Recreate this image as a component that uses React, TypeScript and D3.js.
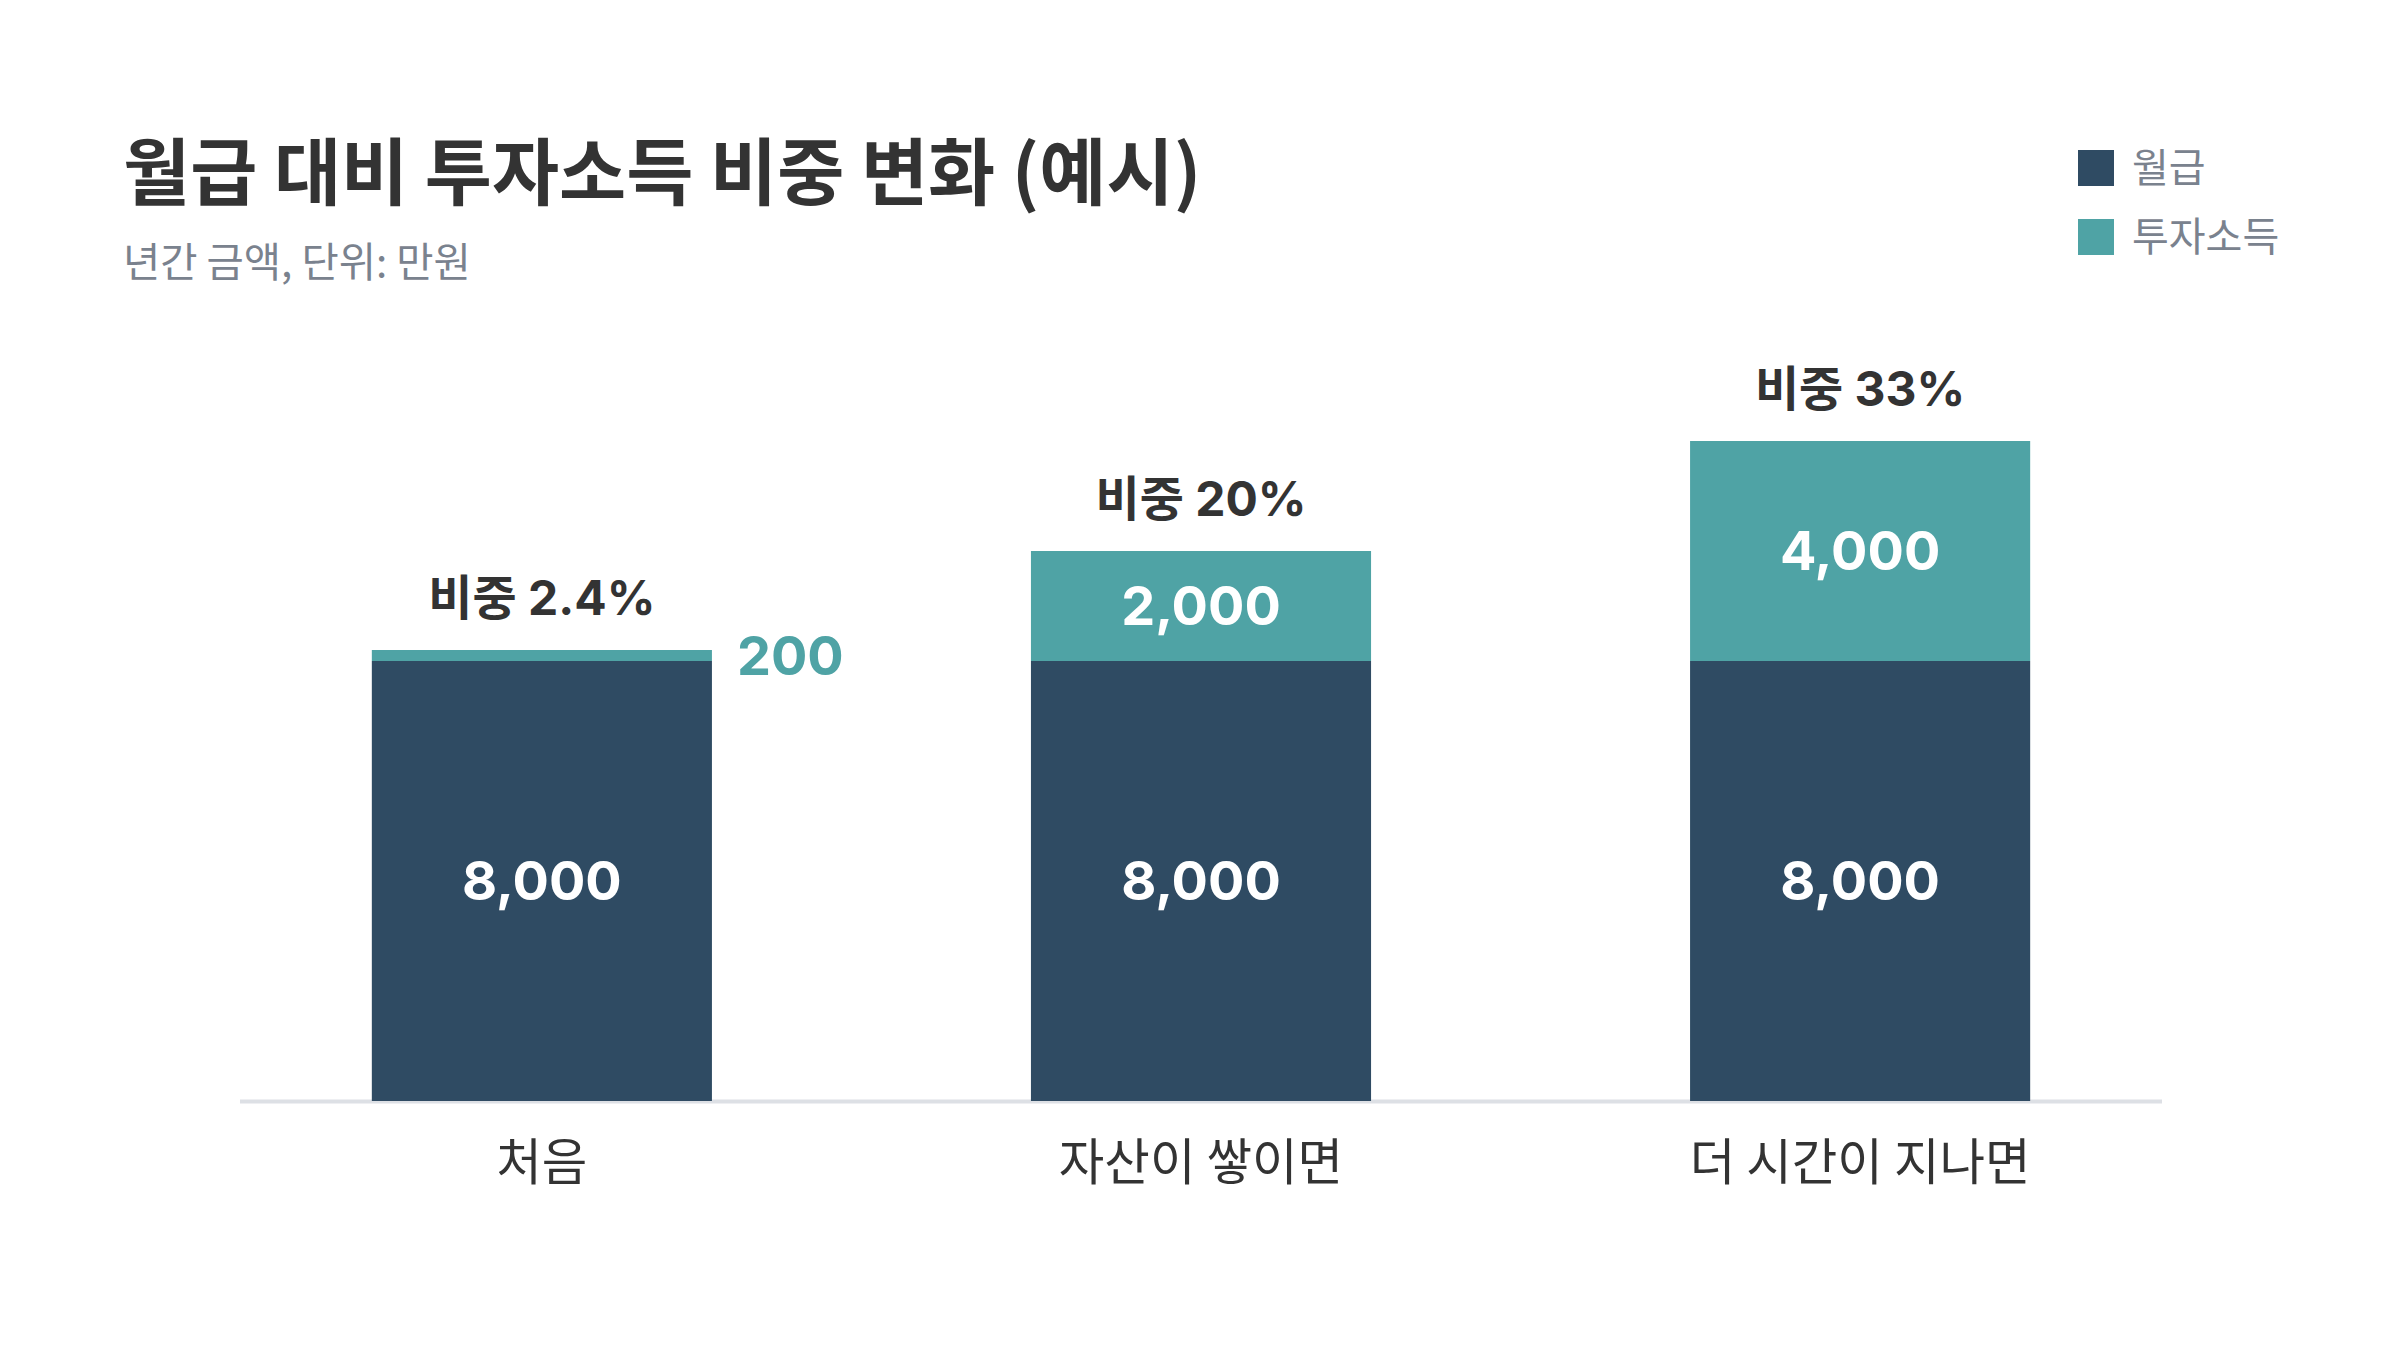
import { useEffect, useRef } from 'react';
import * as d3 from 'd3';

const categories = ['처음', '자산이 쌓이면', '더 시간이 지나면'];
const salary = [8000, 8000, 8000];
const investment = [200, 2000, 4000];
const shareLabels = ['비중 2.4%', '비중 20%', '비중 33%'];
const seriesKeys = ['salary', 'investment'];
const seriesNames = ['월급', '투자소득'];
const seriesColors = ['#2f4b63', '#4fa3a5'];

const FONT = '"Noto Sans CJK KR", "Noto Sans", sans-serif';
const NUM_FONT = 'Inter, "Noto Sans CJK KR", sans-serif';

const App = () => {
  const svgRef = useRef<SVGSVGElement>(null);

  useEffect(() => {
    if (!svgRef.current) {
      return;
    }

    const width = 2400;
    const height = 1350;
    const baseline = 1101;

    const svg = d3.select(svgRef.current);
    svg.selectAll('*').remove();
    svg.attr('width', width).attr('height', height);

    svg.append('rect').attr('width', width).attr('height', height).attr('fill', '#ffffff');

    const rows = categories.map((c, i) => ({ category: c, salary: salary[i], investment: investment[i] }));
    const stacked = d3.stack<(typeof rows)[number]>().keys(seriesKeys)(rows);

    const x = d3.scaleBand<string>().domain(categories).range([240, 2162]).paddingInner(0.484).paddingOuter(0.2);
    const y = d3.scaleLinear().domain([0, 12000]).range([baseline, 441]);
    const color = d3.scaleOrdinal<string, string>().domain(seriesKeys).range(seriesColors);

    // title block
    svg
      .append('text')
      .attr('x', 123)
      .attr('y', 199)
      .attr('font-family', FONT)
      .attr('font-size', 73)
      .attr('font-weight', 700)
      .attr('fill', '#333333')
      .text('월급 대비 투자소득 비중 변화 (예시)');

    svg
      .append('text')
      .attr('x', 123)
      .attr('y', 277)
      .attr('font-family', FONT)
      .attr('font-size', 40.5)
      .attr('fill', '#7a828e')
      .text('년간 금액, 단위: 만원');

    // legend
    const legend = svg
      .append('g')
      .selectAll('g')
      .data(seriesKeys)
      .enter()
      .append('g')
      .attr('transform', (_d, i) => `translate(2078,${150 + i * 69})`);

    legend
      .append('rect')
      .attr('width', 36)
      .attr('height', 36)
      .attr('fill', (d) => color(d));

    legend
      .append('text')
      .attr('x', 54)
      .attr('y', 18)
      .attr('dy', '0.36em')
      .attr('font-family', FONT)
      .attr('font-size', 40)
      .attr('fill', '#7a828e')
      .text((_d, i) => seriesNames[i]);

    // axis line
    svg
      .append('line')
      .attr('x1', x.range()[0])
      .attr('x2', x.range()[1])
      .attr('y1', baseline + 0.5)
      .attr('y2', baseline + 0.5)
      .attr('stroke', '#dde0e5')
      .attr('stroke-width', 4);

    // bars
    const layers = svg
      .append('g')
      .selectAll('g')
      .data(stacked)
      .enter()
      .append('g')
      .attr('fill', (d) => color(d.key));

    layers
      .selectAll('rect')
      .data((d) => d)
      .enter()
      .append('rect')
      .attr('x', (d) => x(d.data.category) ?? 0)
      .attr('width', x.bandwidth())
      .attr('y', (d) => y(d[1]))
      .attr('height', (d) => y(d[0]) - y(d[1]));

    // value labels: inside the segment, or beside the bar when the segment is too thin
    stacked.forEach((layer) => {
      layer.forEach((d) => {
        const segH = y(d[0]) - y(d[1]);
        const mid = (y(d[0]) + y(d[1])) / 2;
        const value = d[1] - d[0];
        const inside = segH > 80;
        const bx = x(d.data.category) ?? 0;
        svg
          .append('text')
          .attr('x', inside ? bx + x.bandwidth() / 2 : bx + x.bandwidth() + 25)
          .attr('y', mid)
          .attr('dy', '0.36em')
          .attr('text-anchor', inside ? 'middle' : 'start')
          .attr('font-family', NUM_FONT)
          .attr('font-size', 54)
          .attr('font-weight', 700)
          .attr('fill', inside ? '#ffffff' : color(layer.key))
          .text(d3.format(',')(value));
      });
    });

    // share labels above bars
    const top = stacked[stacked.length - 1];
    svg
      .append('g')
      .selectAll('text')
      .data(top)
      .enter()
      .append('text')
      .attr('x', (d) => (x(d.data.category) ?? 0) + x.bandwidth() / 2)
      .attr('y', (d) => y(d[1]) - 35)
      .attr('text-anchor', 'middle')
      .attr('font-family', NUM_FONT)
      .attr('font-size', 48)
      .attr('font-weight', 700)
      .attr('fill', '#333333')
      .text((_d, i) => shareLabels[i]);

    // category labels
    svg
      .append('g')
      .selectAll('text')
      .data(categories)
      .enter()
      .append('text')
      .attr('x', (d) => (x(d) ?? 0) + x.bandwidth() / 2)
      .attr('y', baseline + 61)
      .attr('dy', '0.36em')
      .attr('text-anchor', 'middle')
      .attr('font-family', FONT)
      .attr('font-size', 49.5)
      .attr('fill', '#333333')
      .text((d) => d);
  }, []);

  return (
    <div style={{ position: 'absolute', left: 0, top: 0 }}>
      <svg ref={svgRef} style={{ display: 'block' }} />
    </div>
  );
};

export default App;
